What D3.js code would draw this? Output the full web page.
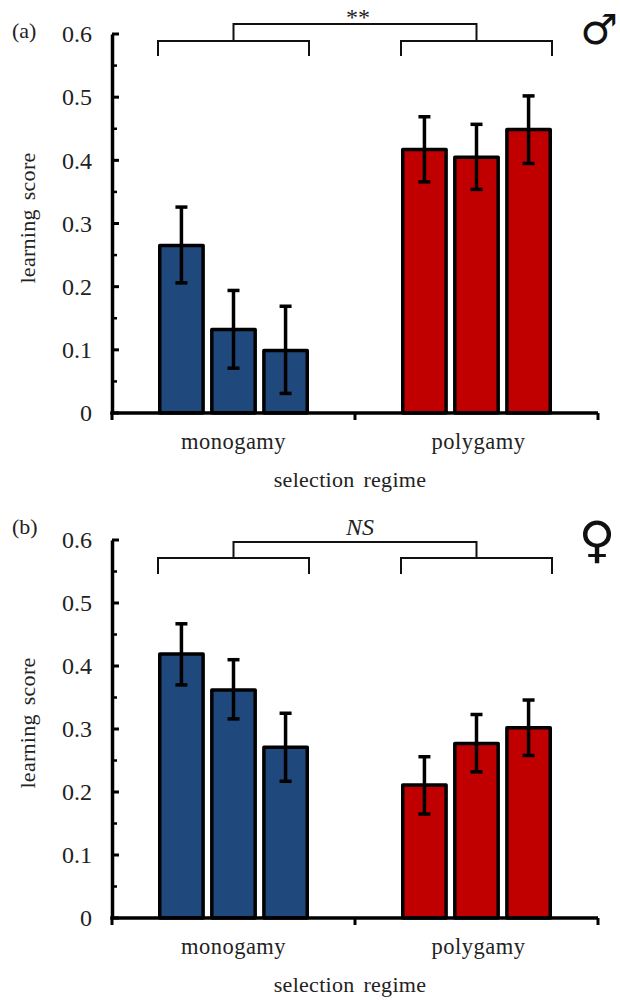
<!DOCTYPE html>
<html><head><meta charset="utf-8">
<script src="https://cdn.jsdelivr.net/npm/d3@7"></script>
<style>
html,body{margin:0;padding:0;background:#fff}
svg{display:block}
text{font-family:"Liberation Serif",serif;fill:#222}
</style></head><body>
<svg id="c" width="620" height="1000"></svg>
<script>
const regimes = ["monogamy","polygamy"];
const lines = ["1","2","3"];
const tickLabels = [0,0.1,0.2,0.3,0.4,0.5,0.6];
const minorTicks = [0.05,0.15,0.25,0.35,0.45,0.55];
const colours = ["#1f497d","#c00000"];

const maleMeans = [0.265,0.132,0.099,0.417,0.405,0.449];
const maleLow   = [0.206,0.071,0.031,0.366,0.354,0.395];
const maleHigh  = [0.326,0.194,0.169,0.469,0.457,0.502];

const femaleMeans = [0.419,0.362,0.271,0.211,0.277,0.302];
const femaleLow   = [0.370,0.316,0.217,0.165,0.232,0.258];
const femaleHigh  = [0.467,0.410,0.325,0.256,0.323,0.346];

const svg = d3.select("#c");
const x0 = d3.scaleBand().domain(regimes).range([112,598]);
const x1 = d3.scaleBand().domain(lines).range([46,197]).paddingInner(0.1).paddingOuter(0);

function panel(o){
  const y = d3.scaleLinear().domain([0,0.6]).range([o.bottom,o.top]);
  const g = svg.append("g");
  const rows = o.means.map((m,i)=>({
    regime: regimes[Math.floor(i/3)], line: lines[i%3], m, lo:o.low[i], hi:o.high[i], c:colours[Math.floor(i/3)]
  }));
  const cx = d=>x0(d.regime)+x1(d.line)+x1.bandwidth()/2;

  g.selectAll("rect.bar").data(rows).join("rect").attr("class","bar")
    .attr("x",d=>x0(d.regime)+x1(d.line)+1.75).attr("width",x1.bandwidth()-3.5)
    .attr("y",d=>y(d.m)).attr("height",d=>y(0)-y(d.m))
    .attr("fill",d=>d.c).attr("stroke","#000").attr("stroke-width",3.5).attr("stroke-linejoin","round");

  const err = g.selectAll("g.err").data(rows).join("g").attr("class","err")
    .attr("stroke","#000").attr("stroke-width",3.5);
  err.append("line").attr("x1",cx).attr("x2",cx).attr("y1",d=>y(d.lo)).attr("y2",d=>y(d.hi));
  ["lo","hi"].forEach(k=>{
    err.append("line").attr("x1",d=>cx(d)-6).attr("x2",d=>cx(d)+6).attr("y1",d=>y(d[k])).attr("y2",d=>y(d[k]));
  });

  // y axis
  const ya = d3.axisLeft(y).tickValues(tickLabels).tickSize(0).tickPadding(20)
    .tickFormat(d=>d===0?"0":d3.format(".1f")(d));
  const yg = g.append("g").attr("transform","translate(112,0)").call(ya);
  yg.select(".domain").attr("stroke","#000").attr("stroke-width",3.5);
  yg.selectAll("text").style("font-size","24px").attr("dy","0.32em");
  g.selectAll("line.ymaj").data(tickLabels).join("line").attr("class","ymaj")
    .attr("x1",112).attr("x2",119).attr("y1",d=>y(d)).attr("y2",d=>y(d))
    .attr("stroke","#000").attr("stroke-width",3);
  g.selectAll("line.ymin").data(minorTicks).join("line").attr("class","ymin")
    .attr("x1",112).attr("x2",117).attr("y1",d=>y(d)).attr("y2",d=>y(d))
    .attr("stroke","#000").attr("stroke-width",2.5);

  // x axis
  g.append("line").attr("x1",x0.range()[0]-1.75).attr("x2",x0.range()[1]).attr("y1",y(0)).attr("y2",y(0))
    .attr("stroke","#000").attr("stroke-width",3.5);
  const xTicks = [x0(regimes[0]),x0(regimes[1]),x0(regimes[1])+x0.bandwidth()];
  g.selectAll("line.xt").data(xTicks).join("line").attr("class","xt")
    .attr("x1",d=>d).attr("x2",d=>d).attr("y1",y(0)).attr("y2",y(0)+7)
    .attr("stroke","#000").attr("stroke-width",3);
  g.selectAll("text.reg").data(regimes).join("text").attr("class","reg")
    .attr("x",d=>x0(d)+x0.bandwidth()/2+(d==="polygamy"?2:0)).attr("y",y(0)+36).attr("text-anchor","middle")
    .style("font-size","22.5px").style("letter-spacing","0.5px").text(d=>d);
  g.append("text").attr("x",350).attr("y",y(0)+74).attr("text-anchor","middle")
    .style("font-size","22px").style("letter-spacing","0.3px").style("word-spacing","3px").text("selection regime");
  g.append("text").attr("transform",`translate(35,${o.bottom-195}) rotate(-90)`).attr("text-anchor","middle")
    .style("font-size","22px").style("letter-spacing","0.3px").style("word-spacing","3px").text("learning score");

  // brackets
  const L = x0(regimes[0])+x1("1"), R = x0(regimes[0])+x1("3")+x1.bandwidth();
  const L2 = x0(regimes[1])+x1("1"), R2 = x0(regimes[1])+x1("3")+x1.bandwidth();
  const ln = d3.line();
  const path = p=>g.append("path").attr("d",ln(p)).attr("fill","none").attr("stroke","#111").attr("stroke-width",2);
  path([[L,o.drop],[L,o.by],[R,o.by],[R,o.drop]]);
  path([[L2,o.drop],[L2,o.by],[R2,o.by],[R2,o.drop]]);
  path([[(L+R)/2,o.by],[(L+R)/2,o.link],[(L2+R2)/2,o.link],[(L2+R2)/2,o.by]]);

  g.append("text").attr("x",o.sigX).attr("y",o.sigY).attr("text-anchor","middle")
    .style("font-size","24px").style("font-style",o.sigItalic?"italic":"normal").text(o.sig);
  g.append("text").attr("x",12).attr("y",o.tagY).style("font-size","22px").text(o.tag);
  g.append("text").attr("x",o.symX).attr("y",o.symY).attr("text-anchor","middle")
    .style("font-family","DejaVu Sans").style("font-size",o.symSize).style("fill","#111").text(o.sym);
}

panel({top:34,bottom:413,by:41,link:24,drop:56,means:maleMeans,low:maleLow,high:maleHigh,tag:"(a)",tagY:38,sig:"**",sigX:358,sigY:25,sigItalic:false,sym:"\u2642",symX:599,symY:44,symSize:"42px"});
panel({top:540,bottom:918,by:558,link:542,drop:574,means:femaleMeans,low:femaleLow,high:femaleHigh,tag:"(b)",tagY:534,sig:"NS",sigX:360,sigY:535,sigItalic:true,sym:"\u2640",symX:597,symY:557,symSize:"50px"});
</script>
</body></html>
